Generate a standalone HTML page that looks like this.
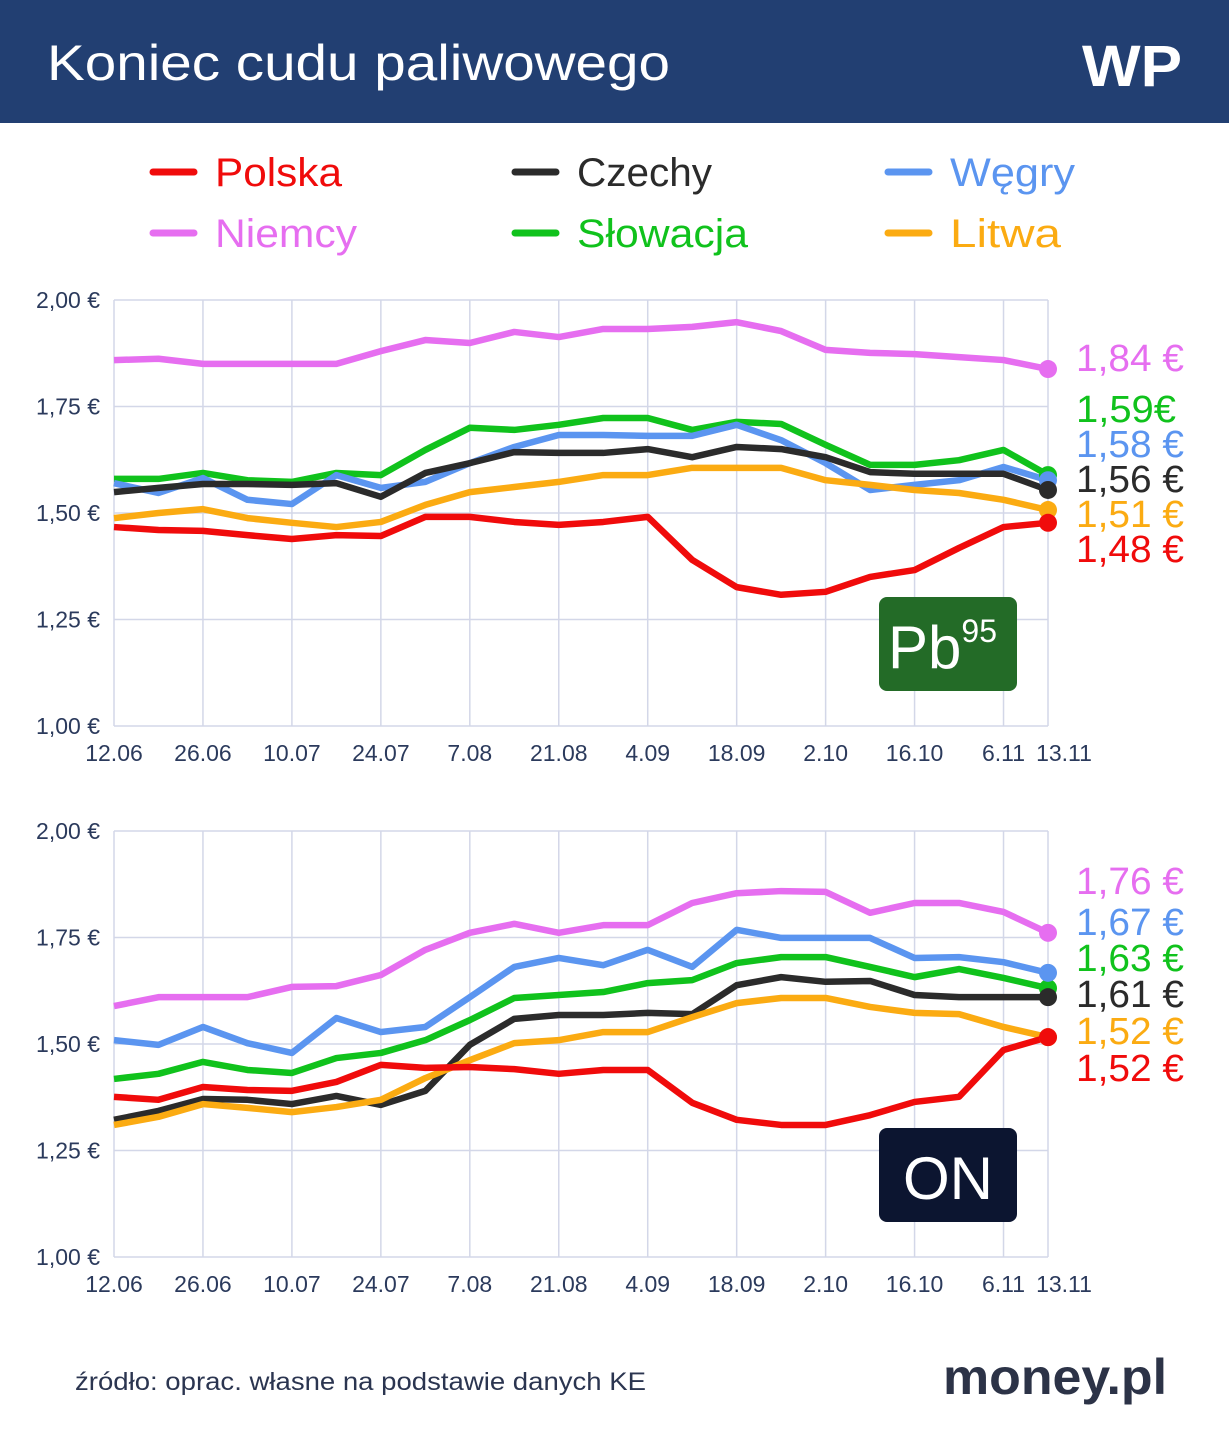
<!DOCTYPE html>
<html><head><meta charset="utf-8"><style>
html,body{margin:0;padding:0;background:#fff}
svg{display:block}
text{font-family:"Liberation Sans",sans-serif}
</style></head><body>
<svg id="root" width="1229" height="1440" viewBox="0 0 1229 1440" xmlns="http://www.w3.org/2000/svg">
<rect x="0" y="0" width="1229" height="123" fill="#223f72"/>
<text x="47" y="80" font-size="50" fill="#fff" textLength="623" lengthAdjust="spacingAndGlyphs">Koniec cudu paliwowego</text>
<text x="1082" y="86" font-size="58" font-weight="bold" fill="#fff" textLength="100" lengthAdjust="spacingAndGlyphs">WP</text>
<g id="legend"></g>
<g id="chart1"></g>
<g id="chart2"></g>
<rect x="879" y="597" width="138" height="94" rx="8" fill="#236b27"/>
<text x="888" y="668" font-size="60" fill="#fff">Pb<tspan font-size="32" dy="-26">95</tspan></text>
<rect x="879" y="1128" width="138" height="94" rx="8" fill="#0c1530"/>
<text x="948" y="1199" font-size="60" fill="#fff" text-anchor="middle">ON</text>
<text x="75" y="1390" font-size="25" fill="#2b3550" textLength="571" lengthAdjust="spacingAndGlyphs">źródło: oprac. własne na podstawie danych KE</text>
<text x="943" y="1394" font-size="50" font-weight="bold" fill="#2c3347" textLength="224" lengthAdjust="spacingAndGlyphs">money.pl</text>
</svg>
<script>
const dates = ["12.06","19.06","26.06","3.07","10.07","17.07","24.07","31.07","7.08","14.08","21.08","28.08","4.09","11.09","18.09","25.09","2.10","9.10","16.10","23.10","6.11","13.11"];
const tickIdx = [0,2,4,6,8,10,12,14,16,18,20,21];
const yTicks = [1.00,1.25,1.50,1.75,2.00];
const seriesNames = ["Niemcy","Słowacja","Węgry","Czechy","Litwa","Polska"];
const seriesColors = ["#e66ef0","#10c21c","#5b95f0","#2b2b2b","#fbab12","#f00b0b"];

const pbNiemcy = [1.859,1.862,1.850,1.850,1.850,1.850,1.880,1.906,1.899,1.925,1.913,1.932,1.932,1.937,1.948,1.927,1.883,1.876,1.873,1.866,1.859,1.838];
const pbSlowacja = [1.580,1.580,1.594,1.577,1.573,1.594,1.589,1.648,1.700,1.695,1.707,1.723,1.723,1.695,1.714,1.709,1.660,1.613,1.613,1.624,1.648,1.589];
const pbWegry = [1.570,1.547,1.582,1.531,1.521,1.589,1.559,1.573,1.617,1.655,1.683,1.683,1.681,1.681,1.707,1.671,1.617,1.554,1.566,1.577,1.608,1.577];
const pbCzechy = [1.549,1.559,1.568,1.568,1.566,1.570,1.538,1.594,1.617,1.643,1.641,1.641,1.650,1.631,1.655,1.650,1.631,1.596,1.592,1.592,1.592,1.554];
const pbLitwa = [1.488,1.500,1.509,1.488,1.477,1.467,1.479,1.519,1.549,1.561,1.573,1.589,1.589,1.606,1.606,1.606,1.577,1.566,1.554,1.547,1.531,1.507];
const pbPolska = [1.467,1.460,1.458,1.448,1.439,1.448,1.446,1.491,1.491,1.479,1.472,1.479,1.491,1.390,1.326,1.308,1.315,1.350,1.366,1.418,1.467,1.477];
const pbLabels = ["1,84 €","1,59€","1,58 €","1,56 €","1,51 €","1,48 €"];

const onNiemcy = [1.589,1.610,1.610,1.610,1.634,1.636,1.662,1.721,1.761,1.782,1.761,1.779,1.779,1.831,1.854,1.859,1.857,1.808,1.831,1.831,1.810,1.761];
const onWegry = [1.509,1.498,1.540,1.502,1.479,1.561,1.528,1.540,1.610,1.681,1.702,1.685,1.721,1.681,1.768,1.749,1.749,1.749,1.702,1.704,1.692,1.667];
const onSlowacja = [1.418,1.430,1.458,1.439,1.432,1.467,1.479,1.509,1.556,1.608,1.615,1.622,1.643,1.650,1.690,1.704,1.704,1.681,1.657,1.676,1.655,1.631];
const onCzechy = [1.322,1.343,1.371,1.369,1.359,1.378,1.357,1.390,1.498,1.559,1.568,1.568,1.573,1.570,1.638,1.657,1.646,1.648,1.615,1.610,1.610,1.610];
const onLitwa = [1.310,1.329,1.359,1.350,1.340,1.352,1.369,1.420,1.462,1.502,1.509,1.528,1.528,1.563,1.596,1.608,1.608,1.587,1.573,1.570,1.540,1.516];
const onPolska = [1.376,1.369,1.399,1.392,1.390,1.411,1.451,1.444,1.446,1.441,1.430,1.439,1.439,1.362,1.322,1.310,1.310,1.333,1.364,1.376,1.486,1.516];
const onLabels = ["1,76 €","1,67 €","1,63 €","1,61 €","1,52 €","1,52 €"];
const onLabelColors = ["#e66ef0","#5b95f0","#10c21c","#2b2b2b","#fbab12","#f00b0b"];

const NS = "http://www.w3.org/2000/svg";
function mk(tag, attrs, parent){const e=document.createElementNS(NS,tag);for(const k in attrs)e.setAttribute(k,attrs[k]);parent.appendChild(e);return e;}

const leg = document.getElementById('legend');
const legOrder = ["Polska","Czechy","Węgry","Niemcy","Słowacja","Litwa"];
const legColors = ["#f00b0b","#2b2b2b","#5b95f0","#e66ef0","#10c21c","#fbab12"];
const legWidths = [127,135,125,142,171,111];
legOrder.forEach((n,i)=>{
  const cx=[150,512,885][i%3], cy=[172,233][Math.floor(i/3)];
  const g=mk('g',{},leg);
  
  
  mk('line',{x1:cx+3,y1:cy,x2:cx+44,y2:cy,stroke:legColors[i],'stroke-width':7,'stroke-linecap':'round'},g);
  const t=mk('text',{x:cx+65,y:cy+14,'font-size':40,fill:legColors[i],textLength:legWidths[i],lengthAdjust:'spacingAndGlyphs'},g);
  t.textContent=n;
});

function drawChart(gid, top, series, colors, labels, labelColors, labelYs){
  const g=document.getElementById(gid);
  const x0=114, x1=1048, bottom=top+426;
  const xS=i=>x0+i*(x1-x0)/(dates.length-1);
  const yS=v=>top+(2-v)*426;
  yTicks.forEach(v=>{
    const l=mk('line',{x1:x0,x2:x1,y1:yS(v),y2:yS(v),stroke:'#d3d7e8','stroke-width':1.5},g);
    
    
    const t=mk('text',{x:100,y:yS(v)+8,'font-size':23,fill:'#2b3a5c','text-anchor':'end'},g);
    
    
    t.textContent=v.toFixed(2).replace('.',',')+' €';
  });
  tickIdx.forEach(i=>{
    const l=mk('line',{x1:xS(i),x2:xS(i),y1:top,y2:bottom,stroke:'#d3d7e8','stroke-width':1.5},g);
    
    
    let tx=xS(i); if(i===21) tx+=16;
    const t=mk('text',{x:tx,y:bottom+35,'font-size':23,fill:'#2b3a5c','text-anchor':'middle'},g);
    
    
    t.textContent=dates[i];
  });
  series.forEach((s,k)=>{
    const p=mk('polyline',{points:s.map((v,i)=>xS(i)+','+yS(v)).join(' '),fill:'none',stroke:colors[k],'stroke-width':6.5,'stroke-linejoin':'round'},g);
    
    
  });
  series.forEach((s,k)=>{
    const c=mk('circle',{cx:xS(s.length-1),cy:yS(s[s.length-1]),r:9,fill:colors[k]},g);
    
    
  });
  labels.forEach((lb,k)=>{
    const t=mk('text',{x:1076,y:labelYs[k]+14,'font-size':38,fill:labelColors[k],textLength:lb.length>5?108:100,lengthAdjust:'spacingAndGlyphs'},g);
    
    
    t.textContent=lb;
  });
}
drawChart('chart1',300,[pbNiemcy,pbSlowacja,pbWegry,pbCzechy,pbLitwa,pbPolska],seriesColors,pbLabels,seriesColors,[357,408,443,478,513,548]);
drawChart('chart2',831,[onNiemcy,onSlowacja,onWegry,onCzechy,onLitwa,onPolska],seriesColors,onLabels,onLabelColors,[880,921,957,993,1030,1067]);
</script>
</body></html>
